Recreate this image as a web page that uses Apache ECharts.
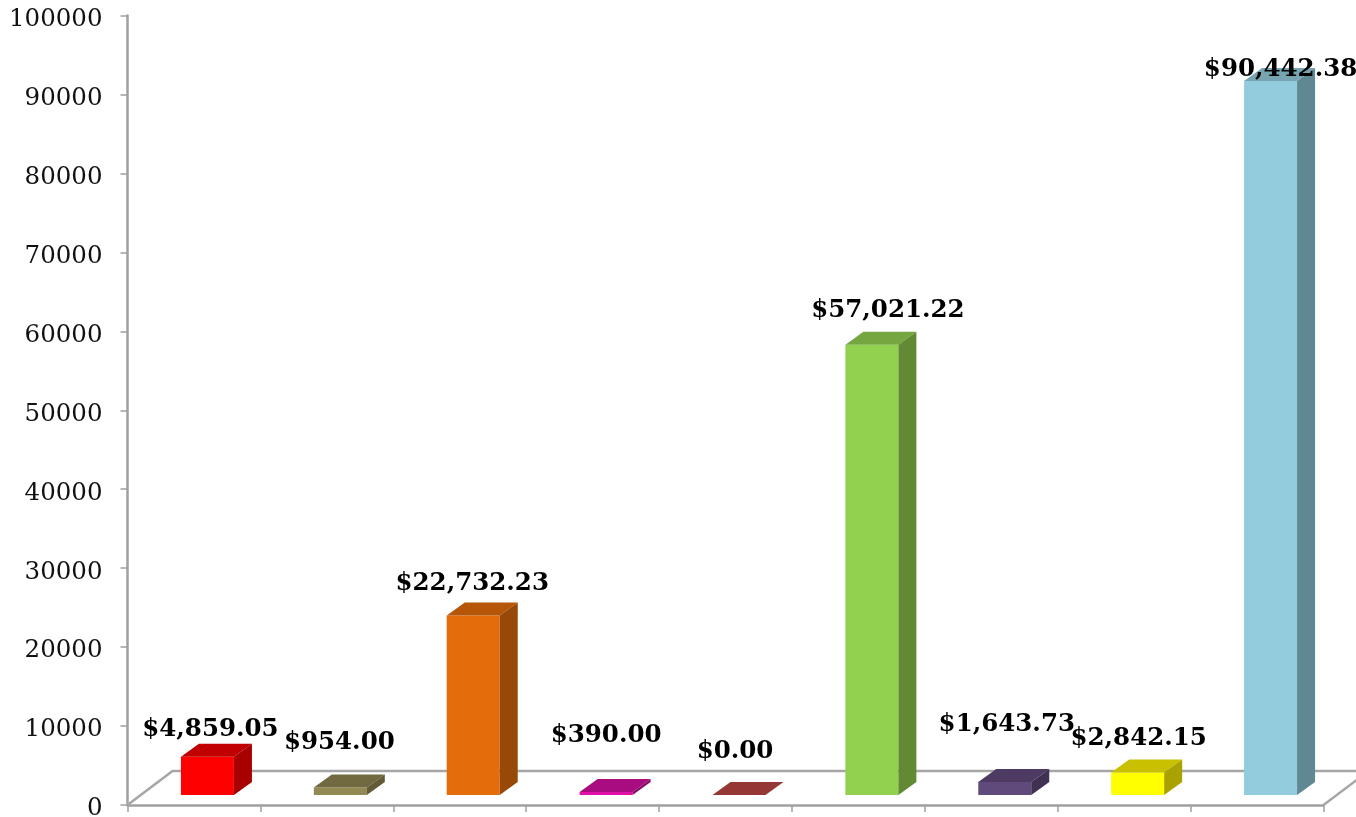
<!DOCTYPE html>
<html><head><meta charset="utf-8">
<style>html,body{margin:0;padding:0;background:#fff;overflow:hidden}#c{width:1356px;height:817px}</style>
<script src="https://cdn.jsdelivr.net/npm/echarts@6/dist/echarts.min.js"></script>
</head><body><div id="c"></div>
<script>
const categories = ['A','B','C','D','E','F','G','H','I'];
const values = [4859.05, 954.00, 22732.23, 390.00, 0.00, 57021.22, 1643.73, 2842.15, 90442.38];
const valueLabels = ['$4,859.05','$954.00','$22,732.23','$390.00','$0.00','$57,021.22','$1,643.73','$2,842.15','$90,442.38'];
const frontColors = ['#FF0000','#938953','#E46C0A','#E010A8','#953735','#92D050','#604A7B','#FFFF00','#93CDDD'];
const topColors   = ['#C00000','#716A41','#B65608','#A80C7E','#953735','#75A640','#4D3B63','#C8C000','#76A4B1'];
const sideColors  = ['#A80000','#625B38','#984807','#8A0A68','#632524','#628A35','#403152','#A9A200','#5F8893'];
const labelNudge = [[3,-14],[-1,-32],[-1,-19],[0,-43],[-4,-30],[16,-21],[2,-44],[1,-21],[10,2]];

const font = '"DejaVu Serif","Liberation Serif",serif';
const barW = 53, offX = 13.5, baseUp = 10, depthX = 18, depthY = 13;
function barGeom(api){
  const i = api.value(0), v = api.value(1);
  const p0 = api.coord([i,0]), p1 = api.coord([i,v]);
  const l = p0[0]-barW/2+offX, r = l+barW, b = p0[1]-baseUp, t = p1[1]-baseUp;
  return {i,l,r,b,t};
}
const chart = echarts.init(document.getElementById('c'),null,{renderer:'canvas'});
chart.setOption({
  animation:false,
  backgroundColor:'#fff',
  grid:{left:127.5,right:32.5,top:15.5,bottom:12,containLabel:false,outerBoundsMode:'none'},
  xAxis:{type:'category',data:categories,boundaryGap:true,
    axisLine:{lineStyle:{color:'#A0A0A0',width:2.5}},
    axisTick:{show:true,length:7,inside:false,alignWithLabel:false,lineStyle:{color:'#A0A0A0',width:1.5}},
    axisLabel:{show:false},splitLine:{show:false}},
  yAxis:{type:'value',min:0,max:100000,interval:10000,
    axisLine:{show:true,lineStyle:{color:'#A0A0A0',width:2.5}},
    axisTick:{show:true,length:7,lineStyle:{color:'#A0A0A0',width:1.5}},
    axisLabel:{color:'#111',fontFamily:font,fontSize:24.5,margin:25,align:'right',verticalAlign:'top',lineHeight:8,formatter:v=>String(v)},
    splitLine:{show:false}},
  series:[
    {type:'custom',z:1,silent:true,data:[[0]],clip:false,
     renderItem(p,api){
      const a = api.coord([0,0]);
      const x0 = a[0]-api.size([1,0])[0]/2, y = a[1];
      return {type:'polyline',shape:{points:[[x0,y],[x0+45,y-34],[1356,y-34]]},
        style:{fill:null,stroke:'#A6A6A6',lineWidth:2.5}};
     }},
    {type:'custom',z:1,silent:true,data:[[8]],clip:false,
     renderItem(p,api){
      const o = api.coord([8,0]); const x1 = o[0]+api.size([1,0])[0]/2, y = o[1];
      return {type:'line',shape:{x1:x1,y1:y,x2:x1+45,y2:y-34},style:{stroke:'#A6A6A6',lineWidth:2.5}};
     }},
    {type:'custom',z:2,silent:true,clip:false,encode:{x:0,y:1},
     data:values.map((v,i)=>[i,v]),
     renderItem(p,api){
      const g = barGeom(api), i = g.i;
      const kids = [];
      if (g.b-g.t>0.01) kids.push({type:'rect',shape:{x:g.l,y:g.t,width:barW,height:g.b-g.t},style:{fill:frontColors[i]}});
      kids.push({type:'polygon',shape:{points:[[g.l,g.t],[g.l+depthX,g.t-depthY],[g.r+depthX,g.t-depthY],[g.r,g.t]]},style:{fill:topColors[i]}});
      if (g.b-g.t>0.01) kids.push({type:'polygon',shape:{points:[[g.r,g.t],[g.r+depthX,g.t-depthY],[g.r+depthX,g.b-depthY],[g.r,g.b]]},style:{fill:sideColors[i]}});
      return {type:'group',children:kids};
     }},
    {type:'custom',z:5,silent:true,clip:false,encode:{x:0,y:1},
     data:values.map((v,i)=>[i,v]),
     renderItem(p,api){
      const g = barGeom(api), i = g.i, n = labelNudge[i];
      return {type:'text',style:{text:valueLabels[i],x:(g.l+g.r)/2+n[0],y:g.t-depthY+n[1],
        align:'center',verticalAlign:'middle',fill:'#000',font:'bold 24.5px '+font}};
     }}
  ]
});
</script></body></html>
